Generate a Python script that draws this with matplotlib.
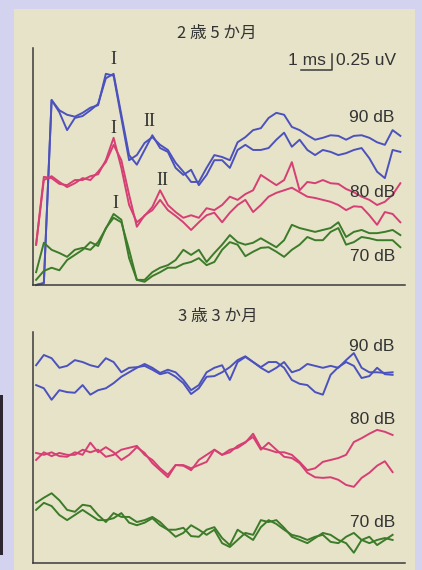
import matplotlib
matplotlib.use("Agg")
import matplotlib.pyplot as plt
from matplotlib.patches import Rectangle

# sampling instants (ms) shared by all traces
time_ms = [0.10, 0.35, 0.60, 0.85, 1.10, 1.35, 1.60, 1.85, 2.10, 2.35, 2.60, 2.85,
           3.10, 3.35, 3.60, 3.85, 4.10, 4.35, 4.60, 4.85, 5.10, 5.35, 5.60, 5.85,
           6.10, 6.35, 6.60, 6.85, 7.10, 7.35, 7.60, 7.85, 8.10, 8.35, 8.60, 8.85,
           9.10, 9.35, 9.60, 9.85, 10.10, 10.35, 10.60, 10.85, 11.10, 11.35, 11.60, 11.85]

# 2 years 5 months (uV, two runs per level)
top_90_a = [0.00, 0.03, 2.89, 2.73, 2.66, 2.63, 2.69, 2.77, 2.81, 3.30, 3.27, 2.61,
            1.95, 2.03, 2.22, 2.31, 2.19, 2.11, 1.91, 1.77, 1.61, 1.61, 1.83, 2.03,
            2.00, 1.95, 2.23, 2.31, 2.42, 2.45, 2.61, 2.69, 2.66, 2.47, 2.42, 2.34,
            2.27, 2.30, 2.34, 2.33, 2.27, 2.33, 2.34, 2.30, 2.23, 2.19, 2.42, 2.33]
top_90_b = [0.00, 0.03, 2.89, 2.70, 2.42, 2.61, 2.64, 2.73, 2.83, 3.23, 3.30, 2.66,
            2.03, 1.88, 2.11, 2.34, 2.14, 2.08, 1.83, 1.72, 1.80, 1.56, 1.72, 1.95,
            1.95, 1.83, 2.11, 2.19, 2.11, 2.11, 2.14, 2.27, 2.38, 2.16, 2.27, 2.11,
            2.03, 2.11, 2.08, 2.03, 2.06, 2.11, 2.14, 1.98, 1.77, 1.67, 2.11, 2.08]
top_80_a = [0.63, 1.69, 1.67, 1.58, 1.56, 1.64, 1.64, 1.70, 1.73, 1.95, 2.30, 1.83,
            1.25, 0.98, 1.08, 1.22, 1.48, 1.25, 1.14, 1.05, 1.09, 1.05, 1.20, 1.17,
            1.25, 1.38, 1.33, 1.42, 1.48, 1.72, 1.64, 1.56, 1.64, 1.92, 1.48, 1.61,
            1.59, 1.64, 1.59, 1.58, 1.50, 1.45, 1.38, 1.33, 1.25, 1.30, 1.41, 1.59]
top_80_b = [0.63, 1.64, 1.70, 1.61, 1.53, 1.59, 1.67, 1.64, 1.77, 1.92, 2.19, 1.95,
            1.41, 0.91, 1.09, 1.17, 1.33, 1.17, 1.08, 0.98, 0.86, 0.98, 1.09, 1.13,
            0.98, 1.13, 1.25, 1.33, 1.14, 1.25, 1.38, 1.44, 1.48, 1.52, 1.45, 1.38,
            1.36, 1.33, 1.30, 1.25, 1.17, 1.23, 1.22, 1.09, 0.94, 1.14, 1.11, 0.98]
top_70_a = [0.20, 0.66, 0.55, 0.50, 0.44, 0.55, 0.58, 0.55, 0.67, 0.88, 1.11, 1.02,
            0.42, 0.08, 0.08, 0.20, 0.27, 0.31, 0.39, 0.55, 0.47, 0.55, 0.36, 0.50,
            0.63, 0.78, 0.67, 0.63, 0.66, 0.73, 0.66, 0.59, 0.70, 0.94, 0.89, 0.86,
            0.83, 0.86, 0.89, 0.98, 0.75, 0.83, 0.86, 0.81, 0.81, 0.83, 0.86, 0.78]
top_70_b = [0.08, 0.22, 0.27, 0.23, 0.39, 0.47, 0.55, 0.67, 0.61, 0.89, 1.05, 0.98,
            0.55, 0.08, 0.05, 0.14, 0.20, 0.27, 0.27, 0.33, 0.36, 0.42, 0.31, 0.36,
            0.55, 0.67, 0.63, 0.45, 0.52, 0.58, 0.59, 0.52, 0.44, 0.55, 0.63, 0.75,
            0.70, 0.70, 0.83, 0.89, 0.63, 0.67, 0.75, 0.73, 0.70, 0.70, 0.70, 0.59]

# 3 years 3 months
bot_90_a = [3.09, 3.25, 3.20, 3.05, 3.08, 3.17, 3.14, 3.09, 3.06, 3.20, 3.14, 2.98,
            3.05, 3.06, 3.08, 3.02, 2.95, 2.98, 2.91, 2.81, 2.64, 2.73, 2.91, 2.92,
            2.98, 3.06, 3.17, 3.23, 3.14, 3.05, 2.98, 3.05, 3.14, 2.98, 3.02, 3.11,
            3.08, 3.05, 3.08, 3.05, 3.17, 3.28, 3.05, 2.98, 2.98, 2.97, 2.98]
bot_90_b = [2.78, 2.73, 2.55, 2.70, 2.67, 2.66, 2.78, 2.63, 2.70, 2.73, 2.81, 2.91,
            2.98, 3.05, 3.11, 3.05, 2.97, 3.02, 2.98, 2.86, 2.70, 2.78, 2.98, 3.05,
            3.09, 2.86, 3.14, 3.22, 3.14, 3.06, 3.14, 3.14, 3.05, 2.86, 2.80, 2.78,
            2.67, 2.63, 2.94, 3.06, 3.14, 3.08, 2.89, 2.92, 3.05, 2.95, 2.94]
bot_80_a = [1.72, 1.69, 1.73, 1.67, 1.66, 1.73, 1.69, 1.88, 1.73, 1.81, 1.73, 1.61,
            1.69, 1.81, 1.72, 1.56, 1.45, 1.34, 1.53, 1.53, 1.48, 1.53, 1.58, 1.77,
            1.69, 1.77, 1.80, 1.88, 2.02, 1.80, 1.77, 1.73, 1.73, 1.69, 1.58, 1.45,
            1.48, 1.58, 1.61, 1.64, 1.69, 1.89, 1.95, 2.02, 2.08, 2.05, 2.00]
bot_80_b = [1.61, 1.73, 1.67, 1.72, 1.69, 1.69, 1.77, 1.73, 1.77, 1.66, 1.69, 1.77,
            1.80, 1.83, 1.69, 1.61, 1.48, 1.38, 1.53, 1.52, 1.45, 1.61, 1.69, 1.77,
            1.69, 1.73, 1.83, 1.89, 1.97, 1.77, 1.88, 1.77, 1.66, 1.64, 1.56, 1.41,
            1.34, 1.33, 1.34, 1.30, 1.22, 1.19, 1.33, 1.41, 1.52, 1.59, 1.42]
bot_70_a = [0.94, 1.02, 1.09, 0.98, 0.83, 0.80, 0.91, 0.89, 0.75, 0.64, 0.78, 0.72,
            0.72, 0.64, 0.67, 0.72, 0.64, 0.52, 0.52, 0.55, 0.42, 0.41, 0.52, 0.56,
            0.39, 0.28, 0.52, 0.44, 0.36, 0.56, 0.67, 0.61, 0.52, 0.44, 0.41, 0.36,
            0.41, 0.44, 0.33, 0.31, 0.41, 0.47, 0.36, 0.31, 0.36, 0.39, 0.36]
bot_70_b = [0.83, 0.94, 0.89, 0.75, 0.67, 0.75, 0.83, 0.75, 0.67, 0.67, 0.70, 0.78,
            0.63, 0.59, 0.63, 0.70, 0.59, 0.52, 0.41, 0.47, 0.59, 0.52, 0.44, 0.52,
            0.31, 0.25, 0.36, 0.47, 0.44, 0.67, 0.64, 0.67, 0.55, 0.41, 0.36, 0.31,
            0.39, 0.47, 0.44, 0.36, 0.31, 0.16, 0.36, 0.41, 0.28, 0.36, 0.44]

levels = ["90 dB", "80 dB", "70 dB"]
colors = ["#4c52bd", "#d63f74", "#3c7b2a"]

SANS = ["Liberation Sans", "DejaVu Sans"]
CJK = ["Noto Sans CJK JP", "DejaVu Sans"]
TEXT = "#333333"


def setup_axes(ax, ymax):
    ax.set_xlim(0, 12)
    ax.set_ylim(0, ymax)
    ax.set_facecolor("none")
    ax.set_xticks([])
    ax.set_yticks([])
    for side in ("top", "right"):
        ax.spines[side].set_visible(False)
    for side in ("left", "bottom"):
        ax.spines[side].set_color("#3a3a3a")
        ax.spines[side].set_linewidth(1.1)


def draw_traces(ax, pairs):
    for (a, b), color in zip(pairs, colors):
        t = time_ms[:len(a)]
        ax.plot(t, a, color=color, lw=1.4, solid_joinstyle="round", clip_on=False)
        ax.plot(t, b, color=color, lw=1.4, solid_joinstyle="round", clip_on=False)


fig = plt.figure(figsize=(4.22, 5.70), dpi=100)
fig.patch.set_facecolor("#d3d3ef")
fig.add_artist(Rectangle((14 / 422, 0), 401 / 422, 561 / 570, transform=fig.transFigure,
                         facecolor="#e7e3c8", edgecolor="none", zorder=0))
fig.add_artist(Rectangle((0, 15 / 570), 3 / 422, 160 / 570, transform=fig.transFigure,
                         facecolor="#2b2630", edgecolor="none", zorder=0))

ax1 = fig.add_axes([33 / 422, 0.5, 372 / 422, 237 / 570])
ax2 = fig.add_axes([33 / 422, 7 / 570, 372 / 422, 231 / 570])
setup_axes(ax1, 237 / 64)
setup_axes(ax2, 231 / 64)

draw_traces(ax1, [(top_90_a, top_90_b), (top_80_a, top_80_b), (top_70_a, top_70_b)])
draw_traces(ax2, [(bot_90_a, bot_90_b), (bot_80_a, bot_80_b), (bot_70_a, bot_70_b)])

fig.text(0.514, 0.942, "2 歳 5 か月", family=CJK, fontsize=12, color=TEXT,
         ha="center", va="center")
fig.text(0.517, 0.444, "3 歳 3 か月", family=CJK, fontsize=12, color=TEXT,
         ha="center", va="center")

# level labels
for ax, ys in ((ax1, [2.61, 1.44, 0.45]), (ax2, [3.39, 2.25, 0.63])):
    for lab, y in zip(levels, ys):
        ax.text(10.94, y, lab, family=SANS, fontsize=12.5, color=TEXT,
                ha="center", va="center")

# wave labels
waves = [("I", 2.58, 3.53), ("II", 3.74, 2.55), ("I", 2.58, 2.45),
         ("II", 4.16, 1.64), ("I", 2.65, 1.28)]
for lab, x, y in waves:
    ax1.text(x, y, lab, family=["Liberation Serif"], fontsize=13, color=TEXT,
             ha="center", va="center")

# scale bar: 1 ms x 0.25 uV
bx, by = 9.65, 3.36
ax1.plot([bx - 1, bx, bx], [by, by, by + 0.25], color="#3a3a3a", lw=1.1,
         clip_on=False)
ax1.text(bx - 0.2, by + 0.07, "1 ms", family=SANS, fontsize=12.5, color=TEXT,
         ha="right", va="baseline")
ax1.text(bx + 0.12, by + 0.07, "0.25 uV", family=SANS, fontsize=12.5, color=TEXT,
         ha="left", va="baseline")

fig.savefig("out.png", dpi=100, facecolor=fig.get_facecolor())
